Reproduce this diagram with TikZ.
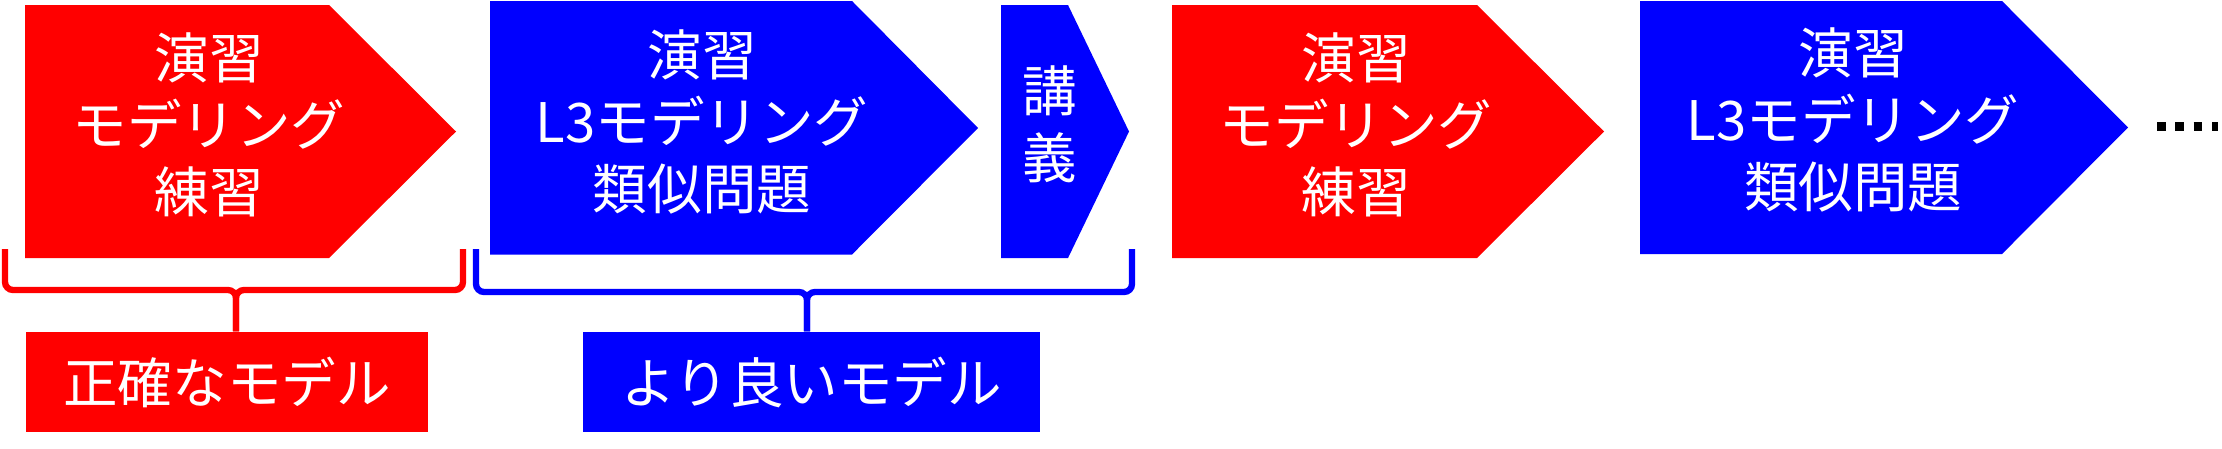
\documentclass[tikz,border=0pt]{standalone}
\usepackage{fontspec}
\newfontfamily\jpfont{Noto Sans CJK JP}
\usepackage{tikz}
\usetikzlibrary{positioning}

\begin{document}
\begin{tikzpicture}[x=0.01cm, y=-0.01cm,
    every node/.style={font={\jpfont\fontsize{15.5pt}{19pt}\selectfont}, text=white},
    redstep/.style={fill=red, draw=none},
    bluestep/.style={fill=blue, draw=none},
    steptext/.style={align=center, inner sep=0pt},
    redtag/.style={rectangle, fill=red, minimum width=4.02cm, minimum height=1.0cm, inner sep=0pt},
    bluetag/.style={rectangle, fill=blue, minimum width=4.57cm, minimum height=1.0cm, inner sep=0pt},
    redbrace/.style={draw=red, line width=1.8pt, rounded corners=0.08cm},
    bluebrace/.style={draw=blue, line width=1.8pt, rounded corners=0.08cm},
    more/.style={draw=black, line width=2.56pt, dash pattern=on 2.42pt off 2.79pt}
]
\useasboundingbox (0,0) rectangle (2222,448);

% Steps (home plate shapes)
\fill[redstep] (25,5) -- (329,5) -- (456,131.5) -- (329,258) -- (25,258) -- cycle;
\fill[bluestep] (490,1) -- (852,1) -- (978,128) -- (852,254.5) -- (490,254.5) -- cycle;
\fill[bluestep] (1001,5) -- (1068,5) -- (1129,131.5) -- (1068,258) -- (1001,258) -- cycle;
\fill[redstep] (1172,5) -- (1477,5) -- (1604,131.5) -- (1477,258) -- (1172,258) -- cycle;
\fill[bluestep] (1640,1) -- (2002,1) -- (2128,127.5) -- (2002,254) -- (1640,254) -- cycle;

% Step texts
\node[steptext] (drill1) at (209,125) {演習\\モデリング\\練習};
\node[steptext] (similar1) at (702,122) {演習\\L3モデリング\\類似問題};
\node[steptext] (lecture) at (1050,124) {講\\義};
\node[steptext] (drill2) at (1356,125) {演習\\モデリング\\練習};
\node[steptext] (similar2) at (1853,120) {演習\\L3モデリング\\類似問題};

% Continuation dots
\coordinate (moreA) at (2157,126.5);
\coordinate (moreB) at (2218,126.5);
\draw[more] (moreA) -- (moreB);

% Result tags
\node[redtag] (exact) at (227,382) {正確なモデル};
\node[bluetag] (better) at (811.5,382) {より良いモデル};

% Braces (two halves meeting at the tip)
\coordinate (rbl) at (5,249);
\coordinate (rbr) at (463,249);
\coordinate (rbtip) at (236,290);
\draw[redbrace] (rbl) |- (rbtip) -- (rbtip |- exact.north);
\draw[redbrace] (rbr) |- (rbtip) -- (rbtip |- exact.north);

\coordinate (bbl) at (476,249);
\coordinate (bbr) at (1132,249);
\coordinate (bbtip) at (807,292);
\draw[bluebrace] (bbl) |- (bbtip) -- (bbtip |- better.north);
\draw[bluebrace] (bbr) |- (bbtip) -- (bbtip |- better.north);

\end{tikzpicture}
\end{document}
